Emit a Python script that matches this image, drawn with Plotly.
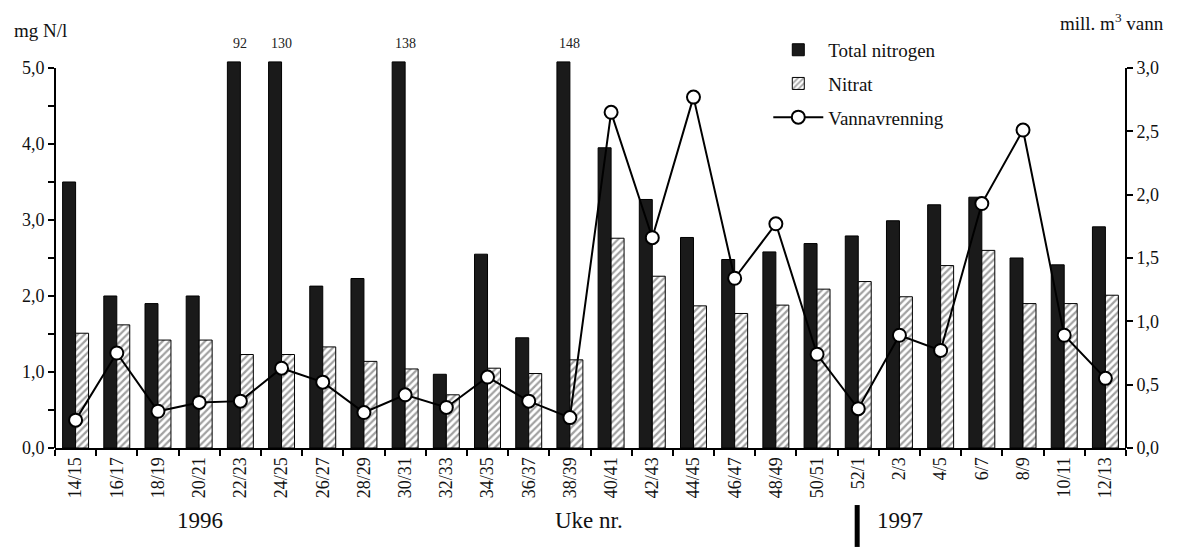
import plotly.graph_objects as go

categories = ["14/15", "16/17", "18/19", "20/21", "22/23", "24/25", "26/27", "28/29",
              "30/31", "32/33", "34/35", "36/37", "38/39", "40/41", "42/43", "44/45",
              "46/47", "48/49", "50/51", "52/1", "2/3", "4/5", "6/7", "8/9", "10/11", "12/13"]

total_nitrogen = [3.5, 2.0, 1.9, 2.0, 92, 130, 2.13, 2.23, 138, 0.97, 2.55, 1.45, 148,
                  3.95, 3.27, 2.77, 2.48, 2.58, 2.69, 2.79, 2.99, 3.2, 3.3, 2.5, 2.41, 2.91]

nitrat = [1.51, 1.62, 1.42, 1.42, 1.23, 1.23, 1.33, 1.14, 1.04, 0.7, 1.05, 0.98, 1.16,
          2.76, 2.26, 1.87, 1.77, 1.88, 2.09, 2.19, 1.99, 2.4, 2.6, 1.9, 1.9, 2.01]

vannavrenning = [0.22, 0.75, 0.29, 0.36, 0.37, 0.63, 0.52, 0.28, 0.42, 0.32, 0.56, 0.37, 0.24,
                 2.65, 1.66, 2.77, 1.34, 1.77, 0.74, 0.31, 0.89, 0.77, 1.93, 2.51, 0.89, 0.55]

y_left_max = 5.0
y_right_max = 3.0
cap = 5.08
tn_drawn = [min(v, cap) for v in total_nitrogen]
head = 1.021  # headroom factor above the labelled axis maximum

serif = "'Liberation Serif', 'Times New Roman', 'DejaVu Serif', serif"
txt = "#111111"

fig = go.Figure()
fig.add_trace(go.Bar(
    x=categories, y=tn_drawn, name="Total nitrogen", legendgroup="a",
    marker=dict(color="#1a1a1a", line=dict(color="#000000", width=1)),
))
fig.add_trace(go.Bar(
    x=categories, y=nitrat, name="Nitrat", legendgroup="b",
    marker=dict(color="white", line=dict(color="#000000", width=1),
                pattern=dict(shape="/", fgcolor="#444444", bgcolor="white", size=5, solidity=0.45)),
))
fig.add_trace(go.Scatter(
    x=categories, y=vannavrenning, name="Vannavrenning", yaxis="y2", legendgroup="c",
    mode="lines+markers", cliponaxis=False,
    line=dict(color="black", width=2),
    marker=dict(symbol="circle", size=13, color="white", line=dict(color="black", width=2)),
))

for c, v in zip(categories, total_nitrogen):
    if v > y_left_max:
        fig.add_annotation(x=c, y=y_left_max, xref="x", yref="y", text=str(v), showarrow=False,
                           yanchor="bottom", yshift=15, font=dict(family=serif, size=14, color="#222"))

# axis lines drawn only up to the labelled maximum
fig.add_shape(type="line", xref="paper", yref="y", x0=0, x1=0, y0=0, y1=y_left_max,
              line=dict(color="black", width=2))
fig.add_shape(type="line", xref="paper", yref="y2", x0=1, x1=1, y0=0, y1=y_right_max,
              line=dict(color="black", width=2))

fig.add_annotation(x=-0.040, y=1.077, xref="paper", yref="paper", text="mg N/l", showarrow=False,
                   xanchor="left", yanchor="middle", font=dict(family=serif, size=19, color=txt))
fig.add_annotation(x=1.037, y=1.098, xref="paper", yref="paper", text="mill. m<sup>3</sup> vann",
                   showarrow=False, xanchor="right", yanchor="middle",
                   font=dict(family=serif, size=19, color=txt))
fig.add_annotation(x=0.112, y=-0.225, xref="paper", yref="paper", text="1996", showarrow=False,
                   font=dict(family=serif, size=23, color=txt))
fig.add_annotation(x=0.499, y=-0.225, xref="paper", yref="paper", text="Uke nr.", showarrow=False,
                   font=dict(family=serif, size=23, color=txt))
fig.add_annotation(x=0.812, y=-0.225, xref="paper", yref="paper", text="1997", showarrow=False,
                   font=dict(family=serif, size=23, color=txt))
fig.add_shape(type="line", xref="paper", yref="paper", x0=0.749, x1=0.749, y0=-0.147, y1=-0.255,
              line=dict(color="black", width=5))

fig.update_layout(
    width=1179, height=549,
    margin=dict(l=55, r=53, t=60, b=101),
    paper_bgcolor="white", plot_bgcolor="white",
    separators=", ",
    barmode="group", bargap=0.37, bargroupgap=0,
    font=dict(family=serif, size=18, color=txt),
    showlegend=True,
    legend=dict(x=0.666, y=1.075, xanchor="left", yanchor="top", bgcolor="rgba(0,0,0,0)",
                font=dict(family=serif, size=19, color=txt), tracegroupgap=6,
                itemwidth=50, traceorder="grouped"),
    xaxis=dict(
        type="category", range=[-0.5, len(categories) - 0.5],
        tickangle=-90, tickson="boundaries", ticks="outside", ticklen=6,
        tickwidth=2, tickcolor="black", showline=True, linecolor="black", linewidth=2,
        showgrid=False, tickfont=dict(family=serif, size=18, color=txt), zeroline=False,
    ),
    yaxis=dict(
        range=[0, y_left_max * head], tickvals=[0, 1, 2, 3, 4, 5], tickformat=".1f",
        ticks="outside", ticklen=6, tickwidth=2,
        tickcolor="black", showline=False, showgrid=False,
        zeroline=False, tickfont=dict(family=serif, size=18, color=txt),
        minor=dict(tickvals=[0.5, 1.5, 2.5, 3.5, 4.5], ticks="outside", ticklen=6, tickwidth=2,
                   tickcolor="black", showgrid=False),
    ),
    yaxis2=dict(
        range=[0, y_right_max * head], tickvals=[0, 0.5, 1, 1.5, 2, 2.5, 3], tickformat=".1f",
        overlaying="y", side="right",
        ticks="outside", ticklen=6, tickwidth=2, tickcolor="black", showline=False,
        showgrid=False, zeroline=False,
        tickfont=dict(family=serif, size=18, color=txt),
    ),
)

fig.write_html("out.html", config={"displayModeBar": False},
               post_script="document.body.style.margin='0';")
